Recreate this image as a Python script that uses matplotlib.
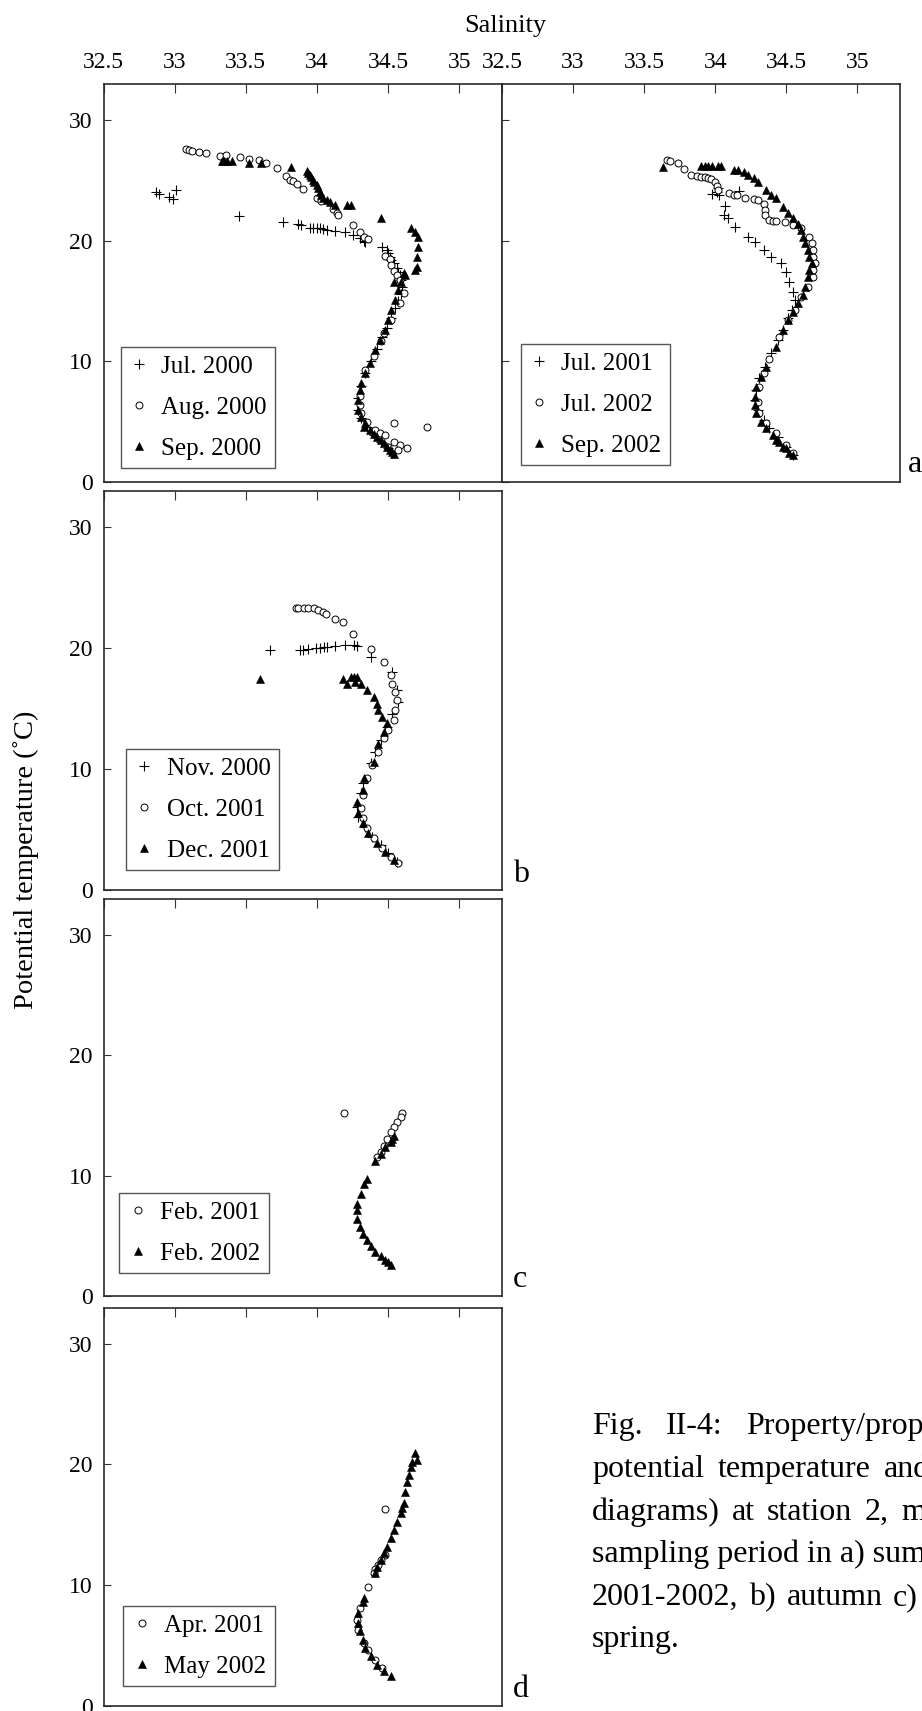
import matplotlib.pyplot as plt

plt.rcParams['font.family'] = ['Liberation Serif', 'DejaVu Serif']

# ---- data: (salinity, potential temperature) ----
# panel a, left
jul00 = [(32.87, 24.06), (32.89, 23.87), (32.96, 23.62), (32.99, 23.48), (33.01, 24.20),
         (33.45, 22.06), (33.76, 21.55), (33.87, 21.38), (33.89, 21.27), (33.95, 21.10),
         (33.97, 21.08), (34.00, 21.05), (34.02, 21.02), (34.04, 20.97), (34.07, 20.88),
         (34.13, 20.83), (34.20, 20.72), (34.25, 20.44), (34.30, 20.22), (34.33, 20.00),
         (34.34, 19.89), (34.46, 19.50), (34.49, 19.22), (34.50, 18.95), (34.51, 18.67),
         (34.52, 18.40), (34.54, 18.12), (34.56, 17.71), (34.57, 17.43), (34.58, 17.16),
         (34.59, 16.74), (34.60, 16.19), (34.59, 15.60), (34.57, 15.00), (34.55, 14.40),
         (34.52, 13.60), (34.49, 12.80), (34.46, 12.00), (34.42, 11.00), (34.38, 10.00),
         (34.34, 9.00), (34.31, 8.00), (34.29, 7.00), (34.29, 6.00), (34.31, 5.30),
         (34.35, 4.60), (34.40, 3.90), (34.45, 3.30), (34.50, 2.80), (34.53, 2.40)]
aug00 = [(33.08, 27.65), (33.10, 27.51), (33.12, 27.43), (33.17, 27.38), (33.22, 27.24),
         (33.32, 27.07), (33.36, 27.10), (33.46, 26.91), (33.52, 26.77), (33.59, 26.66),
         (33.64, 26.46), (33.72, 26.05), (33.78, 25.36), (33.81, 25.03), (33.83, 24.94),
         (33.86, 24.67), (33.90, 24.31), (34.00, 23.51), (34.03, 23.29), (34.11, 22.62),
         (34.14, 22.27), (34.15, 22.13), (34.25, 21.30), (34.30, 20.75), (34.33, 20.33),
         (34.36, 20.14), (34.48, 18.76), (34.51, 18.45), (34.52, 17.98), (34.54, 17.51),
         (34.56, 17.15), (34.58, 16.74), (34.61, 15.64), (34.58, 14.81), (34.52, 13.43),
         (34.47, 12.32), (34.45, 11.71), (34.40, 10.47), (34.34, 9.28), (34.30, 7.13),
         (34.30, 6.38), (34.31, 5.69), (34.35, 5.00), (34.41, 4.31), (34.44, 4.03),
         (34.48, 3.90), (34.54, 4.86), (34.77, 4.59), (34.54, 3.34), (34.58, 3.07),
         (34.63, 2.79), (34.57, 2.65), (34.50, 2.93)]
sep00 = [(33.33, 26.60), (33.34, 26.60), (33.35, 26.60), (33.37, 26.60), (33.40, 26.60),
         (33.52, 26.49), (33.61, 26.41), (33.82, 26.13), (33.93, 25.80), (33.94, 25.60),
         (33.95, 25.44), (33.96, 25.25), (33.97, 25.03), (33.98, 24.85), (34.00, 24.61),
         (34.01, 24.35), (34.02, 24.06), (34.03, 23.80), (34.04, 23.51), (34.07, 23.35),
         (34.09, 23.23), (34.13, 22.96), (34.21, 22.96), (34.24, 22.96), (34.45, 21.85),
         (34.66, 21.10), (34.69, 20.75), (34.71, 20.33), (34.71, 19.50), (34.70, 18.67),
         (34.70, 17.85), (34.69, 17.57), (34.61, 17.29), (34.62, 17.15), (34.54, 16.60),
         (34.59, 16.60), (34.57, 15.90), (34.55, 15.08), (34.52, 14.25), (34.50, 13.43),
         (34.48, 12.60), (34.44, 11.77), (34.41, 10.94), (34.37, 9.83), (34.34, 9.00),
         (34.31, 8.18), (34.30, 7.62), (34.29, 6.80), (34.29, 5.97), (34.31, 5.41),
         (34.34, 4.86), (34.33, 4.60), (34.37, 4.31), (34.40, 4.00), (34.42, 3.76),
         (34.45, 3.45), (34.47, 3.20), (34.49, 2.90), (34.51, 2.65), (34.53, 2.45),
         (34.54, 2.32)]

# panel a, right
jul01 = [(33.98, 23.87), (34.01, 24.06), (34.02, 24.34), (34.03, 23.78), (34.17, 24.14),
         (34.07, 22.87), (34.06, 22.13), (34.09, 21.85), (34.14, 21.16), (34.23, 20.33),
         (34.28, 19.92), (34.34, 19.23), (34.39, 18.67), (34.46, 18.12), (34.50, 17.43),
         (34.52, 16.60), (34.55, 15.77), (34.56, 15.08), (34.54, 14.25), (34.51, 13.56),
         (34.48, 12.60), (34.44, 11.77), (34.39, 10.66), (34.35, 9.56), (34.31, 8.59),
         (34.29, 7.62), (34.28, 6.80), (34.30, 5.97), (34.34, 5.14), (34.38, 4.45),
         (34.44, 3.76), (34.50, 2.93), (34.55, 2.24)]
jul02 = [(33.66, 26.69), (33.68, 26.60), (33.74, 26.41), (33.78, 25.94), (33.83, 25.44),
         (33.87, 25.36), (33.90, 25.30), (33.93, 25.25), (33.95, 25.17), (33.97, 25.11),
         (34.00, 24.89), (34.01, 24.53), (34.02, 24.20), (34.10, 23.98), (34.13, 23.81),
         (34.15, 23.78), (34.21, 23.56), (34.27, 23.43), (34.30, 23.37), (34.34, 23.09),
         (34.35, 22.54), (34.35, 22.13), (34.38, 21.71), (34.41, 21.66), (34.43, 21.66),
         (34.49, 21.52), (34.55, 21.30), (34.60, 21.02), (34.66, 20.33), (34.68, 19.78),
         (34.69, 19.23), (34.69, 18.67), (34.70, 18.12), (34.69, 17.57), (34.69, 17.02),
         (34.65, 16.19), (34.60, 15.36), (34.56, 14.25), (34.51, 13.43), (34.45, 12.04),
         (34.38, 10.17), (34.34, 9.01), (34.31, 7.90), (34.30, 6.66), (34.31, 5.69),
         (34.36, 4.86), (34.43, 4.03), (34.50, 3.07), (34.55, 2.38)]
sep02 = [(33.63, 26.08), (33.90, 26.19), (33.93, 26.19), (33.95, 26.19), (33.98, 26.19),
         (34.02, 26.19), (34.04, 26.19), (34.13, 25.91), (34.16, 25.86), (34.20, 25.72),
         (34.23, 25.44), (34.27, 25.17), (34.30, 24.89), (34.36, 24.20), (34.39, 23.78),
         (34.43, 23.51), (34.48, 22.82), (34.51, 22.27), (34.55, 21.85), (34.58, 21.38),
         (34.60, 20.88), (34.62, 20.33), (34.63, 19.78), (34.65, 19.23), (34.66, 18.67),
         (34.68, 18.12), (34.66, 17.57), (34.65, 17.02), (34.63, 16.19), (34.62, 15.50),
         (34.58, 14.81), (34.55, 14.12), (34.51, 13.43), (34.48, 12.60), (34.43, 11.22),
         (34.36, 9.56), (34.32, 8.73), (34.29, 7.90), (34.28, 7.07), (34.28, 6.38),
         (34.29, 5.69), (34.32, 5.00), (34.36, 4.45), (34.41, 3.90), (34.45, 3.34),
         (34.50, 2.79), (34.55, 2.24), (34.52, 2.43), (34.48, 2.93), (34.43, 3.48)]

# panel b
nov00 = [(33.67, 19.81), (33.88, 19.81), (33.90, 19.86), (33.94, 19.94), (33.99, 20.00),
         (34.02, 20.03), (34.05, 20.05), (34.07, 20.08), (34.13, 20.17), (34.20, 20.28),
         (34.26, 20.22), (34.28, 20.17), (34.38, 19.26), (34.53, 18.02), (34.56, 16.50),
         (34.57, 15.54), (34.53, 14.57), (34.49, 13.47), (34.45, 12.37), (34.41, 11.40),
         (34.38, 10.44), (34.32, 8.79), (34.31, 7.96), (34.28, 6.86), (34.29, 6.03),
         (34.34, 5.21), (34.39, 4.38), (34.45, 3.69), (34.50, 3.00), (34.56, 2.31)]
oct01 = [(33.85, 23.31), (33.87, 23.31), (33.91, 23.31), (33.94, 23.31), (33.98, 23.28),
         (34.01, 23.17), (34.04, 22.98), (34.06, 22.78), (34.13, 22.42), (34.18, 22.15),
         (34.25, 21.18), (34.38, 19.94), (34.47, 18.84), (34.52, 17.74), (34.53, 17.00),
         (34.55, 16.36), (34.56, 15.67), (34.55, 14.85), (34.54, 14.02), (34.50, 13.20),
         (34.47, 12.51), (34.43, 11.40), (34.39, 10.30), (34.35, 9.20), (34.32, 7.82),
         (34.31, 6.72), (34.32, 5.90), (34.35, 5.07), (34.40, 4.24), (34.46, 3.42),
         (34.52, 2.73), (34.57, 2.18)]
dec01 = [(33.60, 17.41), (34.18, 17.47), (34.21, 17.05), (34.24, 17.60), (34.26, 17.60),
         (34.28, 17.60), (34.27, 17.19), (34.31, 17.00), (34.35, 16.50), (34.40, 15.95),
         (34.42, 15.34), (34.43, 14.85), (34.46, 14.30), (34.49, 13.75), (34.47, 13.06),
         (34.43, 12.09), (34.40, 10.58), (34.33, 9.20), (34.32, 8.24), (34.28, 7.27),
         (34.29, 6.31), (34.32, 5.48), (34.36, 4.66), (34.42, 3.83), (34.48, 3.14),
         (34.54, 2.45)]

# panel c
feb01 = [(34.19, 15.16), (34.60, 15.16), (34.59, 14.83), (34.56, 14.41), (34.54, 14.00),
         (34.52, 13.59), (34.49, 13.03), (34.47, 12.48), (34.45, 11.93), (34.42, 11.52)]
feb02 = [(34.53, 13.03), (34.54, 13.31), (34.52, 12.76), (34.48, 12.34), (34.45, 11.79),
         (34.41, 11.19), (34.35, 9.72), (34.33, 9.31), (34.31, 8.48), (34.28, 7.66),
         (34.28, 7.10), (34.28, 6.41), (34.30, 5.72), (34.32, 5.17), (34.35, 4.62),
         (34.38, 4.12), (34.41, 3.66), (34.45, 3.30), (34.48, 2.97), (34.50, 2.83),
         (34.52, 2.55)]

# panel d
apr01 = [(34.48, 16.29), (34.48, 12.48), (34.45, 12.07), (34.43, 11.66), (34.41, 11.30),
         (34.40, 10.97), (34.36, 9.86), (34.30, 8.07), (34.28, 7.10), (34.29, 6.28),
         (34.33, 5.17), (34.36, 4.62), (34.41, 3.79), (34.46, 3.10)]
may02 = [(34.69, 20.90), (34.70, 20.34), (34.67, 20.21), (34.66, 19.79), (34.65, 19.10),
         (34.63, 18.55), (34.62, 17.72), (34.61, 16.76), (34.60, 16.34), (34.59, 15.93),
         (34.56, 15.24), (34.54, 14.55), (34.52, 13.86), (34.49, 13.17), (34.47, 12.62),
         (34.45, 12.07), (34.42, 11.52), (34.41, 11.02), (34.33, 8.90), (34.32, 8.62),
         (34.29, 7.66), (34.29, 6.83), (34.30, 6.14), (34.32, 5.45), (34.34, 4.76),
         (34.38, 4.07), (34.42, 3.38), (34.47, 2.83), (34.52, 2.47)]

x_ticks = [32.5, 33, 33.5, 34, 34.5, 35]
x_labels = ['32.5', '33', '33.5', '34', '34.5', '35']
y_ticks = [0, 10, 20, 30]

# caption is justified and cut by the right edge, so each word has its own x (px)
caption_words = [
    [('Fig.', 592), ('II-4:', 666), ('Property/property', 746)],
    [('potential', 592), ('temperature', 718), ('and', 884)],
    [('diagrams)', 592), ('at', 732), ('station', 767), ('2,', 865), ('m', 901)],
    [('sampling period in a) summer', 592)],
    [('2001-2002,', 592), ('b)', 749), ('autumn', 787), ('c)', 893)],
    [('spring.', 592)],
]
caption_baselines = [1434, 1477, 1520, 1562, 1605, 1647]

# ---- layout ----
W, H = 922, 1711
fig = plt.figure(figsize=(9.22, 17.11), dpi=100)

styles = {
    'plus': dict(marker='+', ms=7, mew=0.8, color='black', ls='none'),
    'circ': dict(marker='o', ms=5, mew=0.7, mfc='white', mec='black', ls='none'),
    'tri': dict(marker='^', ms=5.5, mew=0.4, color='black', ls='none'),
}


def make_axes(x0, y0, x1, y1, top_labels, left_labels):
    ax = fig.add_axes([x0 / W, 1 - y1 / H, (x1 - x0) / W, (y1 - y0) / H])
    ax.set_xlim(32.5, 35.3)
    ax.set_ylim(0, 33)
    ax.set_xticks(x_ticks)
    ax.set_xticklabels(x_labels)
    ax.set_yticks(y_ticks)
    ax.tick_params(axis='x', direction='in', top=True, bottom=False,
                   labeltop=top_labels, labelbottom=False, length=6.5, width=0.8,
                   labelsize=17, pad=8, color='#333333')
    ax.tick_params(axis='y', direction='in', left=True, right=False,
                   labelleft=left_labels, length=5, width=0.8, labelsize=17,
                   pad=8, color='#333333')
    for sp in ax.spines.values():
        sp.set_linewidth(1.2)
        sp.set_color('#2a2a2a')
    return ax


def draw(ax, series, anchor):
    for data, kind, label in series:
        s, t = zip(*data)
        ax.plot(s, t, label=label, **styles[kind])
    leg = ax.legend(loc='lower left', bbox_to_anchor=anchor, borderaxespad=0,
                    fontsize=18, frameon=True, fancybox=False, numpoints=1,
                    borderpad=0.33, labelspacing=0.74, handlelength=0.8,
                    handletextpad=0.5)
    leg.get_frame().set_edgecolor('#2a2a2a')
    leg.get_frame().set_linewidth(1.0)


ax_a1 = make_axes(103.5, 84, 502, 482, True, True)
draw(ax_a1, [(jul00, 'plus', 'Jul. 2000'), (aug00, 'circ', 'Aug. 2000'),
             (sep00, 'tri', 'Sep. 2000')], (0.043, 0.035))

ax_a2 = make_axes(502, 84, 900, 482, True, False)
draw(ax_a2, [(jul01, 'plus', 'Jul. 2001'), (jul02, 'circ', 'Jul. 2002'),
             (sep02, 'tri', 'Sep. 2002')], (0.047, 0.043))

ax_b = make_axes(103.5, 491, 502, 889.5, False, True)
draw(ax_b, [(nov00, 'plus', 'Nov. 2000'), (oct01, 'circ', 'Oct. 2001'),
            (dec01, 'tri', 'Dec. 2001')], (0.056, 0.049))

ax_c = make_axes(103.5, 898.5, 502, 1296, False, True)
draw(ax_c, [(feb01, 'circ', 'Feb. 2001'), (feb02, 'tri', 'Feb. 2002')], (0.04, 0.057))

ax_d = make_axes(103.5, 1307.5, 502, 1705.5, False, True)
draw(ax_d, [(apr01, 'circ', 'Apr. 2001'), (may02, 'tri', 'May 2002')], (0.05, 0.048))

# axis titles
fig.text(505 / W, 1 - 32 / H, 'Salinity', ha='center', va='baseline', fontsize=19)
fig.text(26 / W, 1 - 860 / H, 'Potential temperature (˚C)', ha='center', va='center',
         rotation=90, fontsize=20.5)

# panel letters
for letter, x, y in [('a', 908, 472), ('b', 513, 882), ('c', 513, 1287), ('d', 513, 1697)]:
    fig.text(x / W, 1 - y / H, letter, ha='left', va='baseline', fontsize=23)

# caption
for words, yb in zip(caption_words, caption_baselines):
    for w, x in words:
        fig.text(x / W, 1 - yb / H, w, ha='left', va='baseline', fontsize=23)

fig.savefig('out.png', dpi=100)
